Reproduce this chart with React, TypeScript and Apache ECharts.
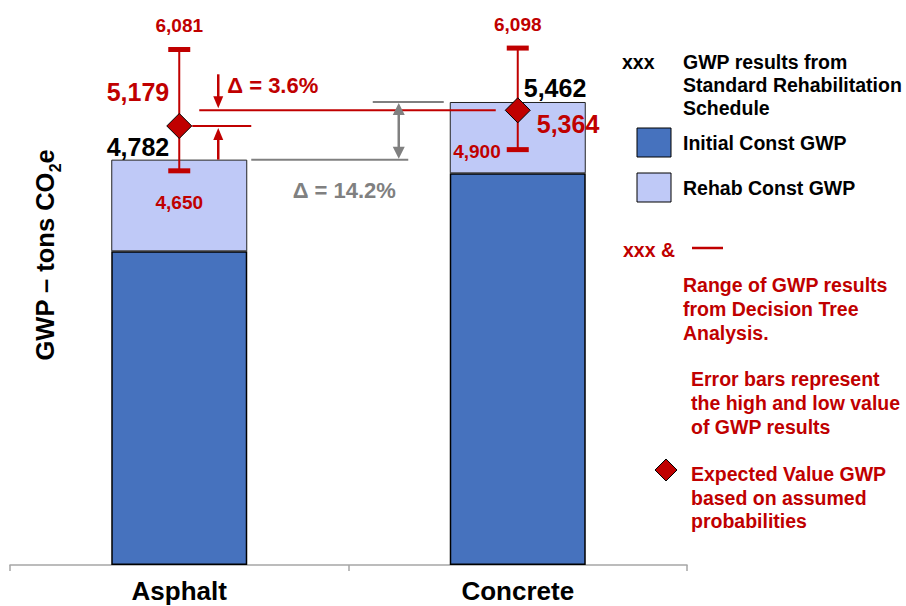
import React, { useEffect, useRef } from 'react';
import * as echarts from 'echarts';

const categories = ['Asphalt', 'Concrete'];
const initialGwp = [3700, 4620];
const rehabGwp = [1082, 842];
const totalGwp = [4782, 5462];
const expectedGwp = [5179, 5364];
const lowGwp = [4650, 4900];
const highGwp = [6081, 6098];
const deltaExpected = 'Δ = 3.6%';
const deltaStandard = 'Δ = 14.2%';

const RED = '#C00000';
const GRAY = '#808080';
const FONT = "'Liberation Sans', Arial, sans-serif";
const f = (size: number) => `bold ${size}px ${FONT}`;

function txt(x: number, y: number, text: string, size: number, fill: string, align = 'left', vAlign = 'middle', extra: any = {}) {
  return {
    type: 'text',
    x,
    y,
    ...extra,
    style: { text, font: f(size), fill, align, verticalAlign: vAlign, textAlign: align, textVerticalAlign: vAlign },
  };
}

const totalLabelPos = [
  { dx: -10, dy: -13, align: 'right' },
  { dx: 6, dy: -14, align: 'left' },
];
const expLabelPos = [
  { dx: -10, dy: -34, align: 'right' },
  { dx: 19, dy: 14, align: 'left' },
];
const lowLabelPos = [
  { dx: 0, dy: 32, align: 'center' },
  { dx: -17, dy: 2, align: 'right' },
];

const fmt = (v: number) => v.toLocaleString('en-US');

function diamond(cx: number, cy: number, r: number) {
  return {
    type: 'polygon',
    shape: { points: [[cx, cy - r], [cx + r, cy], [cx, cy + r], [cx - r, cy]] },
    style: { fill: RED, stroke: '#000', lineWidth: 1 },
  };
}

function renderErrors(params: any, api: any) {
  const i = api.value(0);
  const pLow = api.coord([i, api.value(1)]);
  const pHigh = api.coord([i, api.value(2)]);
  const pExp = api.coord([i, api.value(3)]);
  const pTot = api.coord([i, api.value(4)]);
  const x = pLow[0];
  const tp = totalLabelPos[i];
  const ep = expLabelPos[i];
  const lp = lowLabelPos[i];
  return {
    type: 'group',
    children: [
      { type: 'line', shape: { x1: x, y1: pHigh[1], x2: x, y2: pLow[1] }, style: { stroke: RED, lineWidth: 2 } },
      { type: 'rect', shape: { x: x - 11, y: pHigh[1] - 2.5, width: 22, height: 5 }, style: { fill: RED } },
      { type: 'rect', shape: { x: x - 11, y: pLow[1] - 2.5, width: 22, height: 5 }, style: { fill: RED } },
      diamond(x, pExp[1], 12.5),
      txt(x, pHigh[1] - 24, fmt(api.value(2)), 19, RED, 'center'),
      txt(x + lp.dx, pLow[1] + lp.dy, fmt(api.value(1)), 19, RED, lp.align),
      txt(x + ep.dx, pExp[1] + ep.dy, fmt(api.value(3)), 25, RED, ep.align),
      txt(x + tp.dx, pTot[1] + tp.dy, fmt(api.value(4)), 25, '#000', tp.align),
    ],
  };
}

function upArrow(x: number, yBase: number, yTip: number, color: string, w: number, h: number, lw: number) {
  return [
    { type: 'line', shape: { x1: x, y1: yBase, x2: x, y2: yTip + h - 2 }, style: { stroke: color, lineWidth: lw } },
    { type: 'polygon', shape: { points: [[x, yTip], [x - w / 2, yTip + h], [x + w / 2, yTip + h]] }, style: { fill: color } },
  ];
}
function downArrow(x: number, yBase: number, yTip: number, color: string, w: number, h: number, lw: number) {
  return [
    { type: 'line', shape: { x1: x, y1: yBase, x2: x, y2: yTip - h + 2 }, style: { stroke: color, lineWidth: lw } },
    { type: 'polygon', shape: { points: [[x, yTip], [x - w / 2, yTip - h], [x + w / 2, yTip - h]] }, style: { fill: color } },
  ];
}

function renderAnnotations(params: any, api: any) {
  const a = 0;
  const c = 1;
  const ax = api.coord([a, 0])[0];
  const cx = api.coord([c, 0])[0];
  const yExpA = api.coord([a, expectedGwp[0]])[1];
  const yExpC = api.coord([c, expectedGwp[1]])[1];
  const yTotA = api.coord([a, totalGwp[0]])[1];
  const yTotC = api.coord([c, totalGwp[1]])[1];
  const arrowX = ax + 39;
  const grayX = cx - 119;
  return {
    type: 'group',
    children: [
      { type: 'line', shape: { x1: ax + 13, y1: yExpA, x2: ax + 72, y2: yExpA }, style: { stroke: RED, lineWidth: 2 } },
      { type: 'line', shape: { x1: ax + 20, y1: yExpC, x2: cx - 22, y2: yExpC }, style: { stroke: RED, lineWidth: 2 } },
      ...upArrow(arrowX, yTotA, yExpA + 2, RED, 10, 12, 2.5),
      ...downArrow(arrowX, yExpC - 36, yExpC - 2, RED, 10, 12, 2.5),
      txt(arrowX + 9, yExpC - 25, deltaExpected, 22, RED, 'left'),
      { type: 'line', shape: { x1: ax + 72, y1: yTotA, x2: ax + 229, y2: yTotA }, style: { stroke: GRAY, lineWidth: 2 } },
      { type: 'line', shape: { x1: cx - 145, y1: yTotC, x2: cx - 74, y2: yTotC }, style: { stroke: GRAY, lineWidth: 2 } },
      { type: 'line', shape: { x1: grayX, y1: yTotC + 10, x2: grayX, y2: yTotA - 10 }, style: { stroke: GRAY, lineWidth: 2.5 } },
      { type: 'polygon', shape: { points: [[grayX, yTotC + 1], [grayX - 6, yTotC + 13], [grayX + 6, yTotC + 13]] }, style: { fill: GRAY } },
      { type: 'polygon', shape: { points: [[grayX, yTotA - 1], [grayX - 6, yTotA - 13], [grayX + 6, yTotA - 13]] }, style: { fill: GRAY } },
      txt(ax + 165, yTotA + 31, deltaStandard, 22, GRAY, 'center'),
    ],
  };
}

const LS = 19.5;
const legendGraphics: any[] = [
  txt(622, 62, 'xxx', LS, '#000'),
  txt(683, 62, 'GWP results from', LS, '#000'),
  txt(683, 85, 'Standard Rehabilitation', LS, '#000'),
  txt(683, 108, 'Schedule', LS, '#000'),
  { type: 'rect', shape: { x: 637, y: 128, width: 34, height: 29 }, style: { fill: '#4672BE', stroke: '#000', lineWidth: 1 } },
  txt(683, 143, 'Initial Const GWP', LS, '#000'),
  { type: 'rect', shape: { x: 637, y: 173, width: 34, height: 29 }, style: { fill: '#BFC9F7', stroke: '#000', lineWidth: 1 } },
  txt(683, 188, 'Rehab Const GWP', LS, '#000'),
  txt(623, 250, 'xxx &', LS, RED),
  { type: 'line', shape: { x1: 692, y1: 248, x2: 723, y2: 248 }, style: { stroke: RED, lineWidth: 2.5 } },
  txt(683, 285, 'Range of GWP results', LS, RED),
  txt(683, 309, 'from Decision Tree', LS, RED),
  txt(683, 333, 'Analysis.', LS, RED),
  txt(691, 379, 'Error bars represent', LS, RED),
  txt(691, 403, 'the high and low value', LS, RED),
  txt(691, 427, 'of GWP results', LS, RED),
  diamond(666, 470, 11),
  txt(691, 474, 'Expected Value GWP', LS, RED),
  txt(691, 498, 'based on assumed', LS, RED),
  txt(691, 521, 'probabilities', LS, RED),
  {
    type: 'text',
    x: 45,
    y: 255,
    rotation: Math.PI / 2,
    style: {
      text: '{a|GWP – tons CO}{b|2}{a|e}',
      align: 'center',
      verticalAlign: 'middle',
      textAlign: 'center',
      textVerticalAlign: 'middle',
      rich: {
        a: { font: f(25.5), fill: '#000', lineHeight: 30, verticalAlign: 'middle' },
        b: { font: f(16), fill: '#000', lineHeight: 30, verticalAlign: 'bottom', padding: [0, 0, -3, 0] },
      },
    },
  },
];

export default function App() {
  const ref = useRef<HTMLDivElement>(null);
  useEffect(() => {
    if (!ref.current) return;
    const chart = echarts.init(ref.current, undefined, { renderer: 'svg' });
    chart.setOption({
      animation: false,
      backgroundColor: '#fff',
      grid: { left: 10, right: 219, top: 14, bottom: 41 },
      xAxis: {
        type: 'category',
        data: categories,
        axisLine: { lineStyle: { color: '#A6A6A6', width: 1.5 } },
        axisTick: { show: true, length: 6, lineStyle: { color: '#A6A6A6', width: 1.5 } },
        axisLabel: { color: '#000', fontFamily: FONT, fontWeight: 'bold', fontSize: 26, margin: 13 },
      },
      yAxis: { type: 'value', min: 0, max: 6500, show: false, splitLine: { show: false } },
      series: [
        {
          name: 'Initial Const GWP',
          type: 'bar',
          stack: 'gwp',
          data: initialGwp,
          barWidth: 136,
          itemStyle: { color: '#4672BE', borderColor: '#000', borderWidth: 1.5 },
        },
        {
          name: 'Rehab Const GWP',
          type: 'bar',
          stack: 'gwp',
          data: rehabGwp,
          barWidth: 136,
          itemStyle: { color: '#BFC9F7', borderColor: '#222', borderWidth: 1 },
        },
        {
          name: 'annotations',
          type: 'custom',
          renderItem: renderAnnotations,
          data: [[0]],
          z: 3,
          silent: true,
        },
        {
          name: 'range',
          type: 'custom',
          renderItem: renderErrors,
          data: categories.map((_, i) => [i, lowGwp[i], highGwp[i], expectedGwp[i], totalGwp[i]]),
          z: 4,
          silent: true,
        },
      ],
      graphic: legendGraphics,
    });
    return () => chart.dispose();
  }, []);
  return <div ref={ref} style={{ position: 'fixed', left: 0, top: 0, width: 906, height: 606 }} />;
}
